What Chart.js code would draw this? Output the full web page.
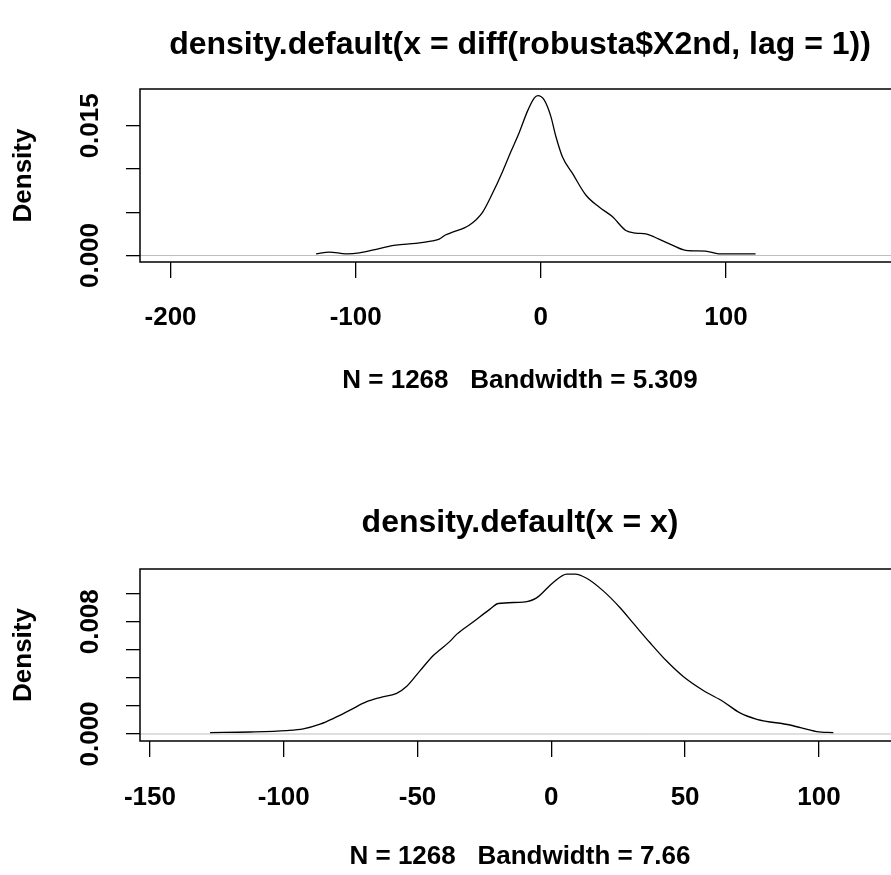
<!DOCTYPE html>
<html>
<head>
<meta charset="utf-8">
<script src="https://cdn.jsdelivr.net/npm/chart.js@4.4.0/dist/chart.umd.min.js"></script>
<style>
  html, body { margin: 0; padding: 0; background: #fff; width: 891px; height: 875px; overflow: hidden; }
  canvas { display: block; }
</style>
</head>
<body>
<canvas id="chart-1" width="980" height="437"></canvas>
<canvas id="chart-2" width="980" height="438"></canvas>
<script>
// panel 1: density of diff(robusta$X2nd)
const diffX = [-121.4, -114.2, -105.2, -98, -87.3, -78.3, -67.5, -58.5, -54.9, -51.3, -47.7, -38.7, -31.5, -26.1, -20.7, -16.2, -11.7, -7.2, -3.6, -1.6, 1.8, 5.4, 8.1, 11.7, 17.1, 24.3, 31.5, 38.6, 45.9, 51.3, 56.7, 63.8, 71.0, 78.2, 89, 96.2, 116];
const diffDensity = [0.0002, 0.0004, 0.0002, 0.0003, 0.0008, 0.0012, 0.0014, 0.0017, 0.0019, 0.0024, 0.0027, 0.0035, 0.0050, 0.0072, 0.0097, 0.0120, 0.0142, 0.0167, 0.0182, 0.0185, 0.0180, 0.0161, 0.0138, 0.0114, 0.0095, 0.0070, 0.0056, 0.0045, 0.0029, 0.0026, 0.0025, 0.0019, 0.0012, 0.0006, 0.0005, 0.0002, 0.0002];
const topXTicks = [-200, -100, 0, 100];
const topYTicks = [0, 0.005, 0.010, 0.015];
const topYLabels = [0, 0.015];
const topXLim = [-216.5, 194];
const topYLim = [-0.00075, 0.01926];

// panel 2: density of x
const xX = [-127.5, -112.6, -98.9, -92.7, -86.4, -81.5, -75.2, -69, -64, -57.8, -54, -49.1, -44.1, -41.6, -37.9, -35.4, -29.1, -22.9, -19.8, -10.5, -5.5, 0.7, 5.8, 8.9, 13.2, 19.4, 25.7, 30.6, 36.9, 43.1, 49.3, 56.8, 64.3, 70.5, 76.8, 89.2, 99.2, 105.4];
const xDensity = [0.0001, 0.00014, 0.00024, 0.00036, 0.0007, 0.0011, 0.0017, 0.0023, 0.0026, 0.0029, 0.0034, 0.0045, 0.0056, 0.0060, 0.0066, 0.0071, 0.0080, 0.0089, 0.0093, 0.0094, 0.0097, 0.0108, 0.0114, 0.0114, 0.0111, 0.0102, 0.0090, 0.0079, 0.0065, 0.0052, 0.0041, 0.0031, 0.0023, 0.0015, 0.00105, 0.00064, 0.00017, 0.0001];
const bottomXTicks = [-150, -100, -50, 0, 50, 100];
const bottomYTicks = [0, 0.002, 0.004, 0.006, 0.008, 0.010];
const bottomYLabels = [0, 0.008];
const bottomXLim = [-153.7, 130.3];
const bottomYLim = [-0.0005, 0.01176];

const FONT = '"Liberation Sans", Arial, sans-serif';

// R style box, titles and rotated y labels
const rPlot = {
  id: 'rPlot',
  afterDraw(chart, args, o) {
    const { ctx, chartArea: a, scales } = chart;
    ctx.save();
    ctx.strokeStyle = '#000';
    ctx.lineWidth = 1.5;
    ctx.strokeRect(a.left, a.top, a.right - a.left, a.bottom - a.top);
    ctx.fillStyle = '#000';
    ctx.textAlign = 'center';
    ctx.textBaseline = 'middle';
    const cx = (a.left + a.right) / 2;
    ctx.font = 'bold 32px ' + FONT;
    ctx.fillText(o.title, cx, o.titleY);
    ctx.font = 'bold 26px ' + FONT;
    ctx.fillText(o.sub, cx, o.subY);
    ctx.save();
    ctx.translate(24, (a.top + a.bottom) / 2);
    ctx.rotate(-Math.PI / 2);
    ctx.fillText('Density', 0, 0);
    ctx.restore();
    o.yLabels.forEach(v => {
      const y = scales.y.getPixelForValue(v);
      ctx.save();
      ctx.translate(91, y);
      ctx.rotate(-Math.PI / 2);
      ctx.fillText(v.toFixed(3), 0, 0);
      ctx.restore();
    });
    ctx.restore();
  }
};

function densityChart(id, xs, ys, xTicks, yTicks, yLabels, xLim, yLim, opts) {
  const ctx = document.getElementById(id).getContext('2d');
  const H = ctx.canvas.height;
  return new Chart(ctx, {
    type: 'line',
    data: {
      datasets: [
        {
          data: xs.map((x, i) => ({ x: x, y: ys[i] })),
          borderColor: '#000',
          borderWidth: 1.3,
          pointRadius: 0,
          cubicInterpolationMode: 'monotone',
          order: 0
        },
        {
          data: [{ x: xLim[0], y: 0 }, { x: xLim[1], y: 0 }],
          borderColor: '#bebebe',
          borderWidth: 1,
          pointRadius: 0,
          order: 1
        }
      ]
    },
    options: {
      responsive: false,
      animation: false,
      layout: { padding: { top: opts.boxTop, right: ctx.canvas.width - 900, left: 0, bottom: 0 } },
      plugins: {
        legend: { display: false },
        tooltip: { enabled: false },
        rPlot: opts
      },
      scales: {
        x: {
          type: 'linear',
          min: xLim[0],
          max: xLim[1],
          afterFit: s => { s.height = H - opts.boxBottom; },
          afterBuildTicks: s => { s.ticks = xTicks.map(v => ({ value: v })); },
          border: { display: false },
          grid: { drawOnChartArea: false, drawTicks: true, tickLength: 16, color: '#000', lineWidth: 1.3 },
          ticks: {
            color: '#000',
            font: { family: FONT, size: 26, weight: 'bold' },
            padding: opts.tickPad,
            maxRotation: 0,
            autoSkip: false,
            callback: v => String(v)
          }
        },
        y: {
          type: 'linear',
          min: yLim[0],
          max: yLim[1],
          afterFit: s => { s.width = 140; },
          afterBuildTicks: s => { s.ticks = yTicks.map(v => ({ value: v })); },
          border: { display: false },
          grid: { drawOnChartArea: false, drawTicks: true, tickLength: 14, color: '#000', lineWidth: 1.3 },
          ticks: { display: false }
        }
      }
    },
    plugins: [rPlot]
  });
}

densityChart('chart-1', diffX, diffDensity, topXTicks, topYTicks, topYLabels, topXLim, topYLim, {
  title: 'density.default(x = diff(robusta$X2nd, lag = 1))',
  sub: 'N = 1268   Bandwidth = 5.309',
  titleY: 45, subY: 381, boxTop: 89, boxBottom: 262, tickPad: 24, yLabels: topYLabels
});

densityChart('chart-2', xX, xDensity, bottomXTicks, bottomYTicks, bottomYLabels, bottomXLim, bottomYLim, {
  title: 'density.default(x = x)',
  sub: 'N = 1268   Bandwidth = 7.66',
  titleY: 86, subY: 420, boxTop: 132, boxBottom: 304, tickPad: 25, yLabels: bottomYLabels
});
</script>
</body>
</html>
